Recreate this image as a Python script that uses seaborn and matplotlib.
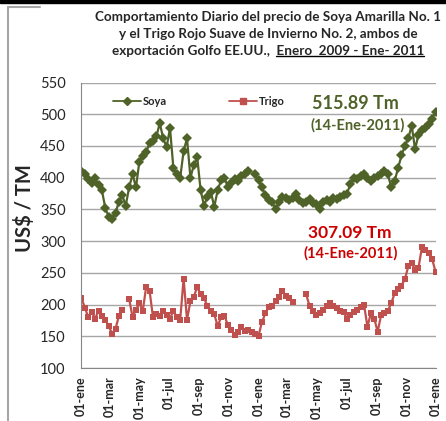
import pandas as pd
import seaborn as sns
import matplotlib.pyplot as plt
from matplotlib.lines import Line2D
from matplotlib.patches import Rectangle

# precios semanales (US$/TM); None = sin dato
fechas = pd.date_range('2009-01-02', '2010-12-31', freq='7D')

soya = [411, 405, 398, 392, 400, 388, 380, 352, 338, 335,
        345, 362, 372, 356, 385, 405, 385, 425, 434, 440,
        455, 458, 465, 486, 462, 448, 478, 415, 405, 400,
        442, 462, 400, 420, 432, 380, 356, 370, 378, 354,
        380, 396, 400, 385, 392, 398, 395, 402, 405, 410,
        None, 405, 396, 385, 372, 365, 362, 350, 362, 370,
        368, 365, 368, 375, 365, 360, 362, 366, 360, 358,
        350, 362, 365, 362, 368, 366, 370, 372, 375, 390,
        400, 398, 402, 405, 400, 395, 400, 402, 405, 410,
        405, 385, 395, 415, 435, 450, 462, 482, 445, 468,
        475, 478, 485, 492, 504]

trigo = [210, 195, 180, 188, 178, 190, 182, 176, 166, 154,
         162, 182, 192, None, 209, 180, 192, 202, 190, 228,
         222, 180, 185, 182, 190, 183, 178, 190, 180, 176,
         241, 176, 205, 212, 228, 216, 210, 198, 190, 185,
         166, 180, 182, 168, 160, 152, 156, 165, 158, 160,
         156, 154, 151, 172, 186, 196, 198, 205, 212, 222,
         214, 210, 204, None, None, None, 216, 198, 190, 184,
         186, 192, 198, 202, 198, 194, 190, 188, 178, 184,
         188, 192, 196, 200, 165, 186, 178, 157, 183, 186,
         190, 202, 218, 224, 230, 240, 260, 265, 255, 258,
         290, 286, 282, 272, 252]

ticks_x = pd.date_range('2009-01-01', '2011-01-01', freq='2MS')
etiquetas_x = ['01-ene', '01-mar', '01-may', '01-jul', '01-sep', '01-nov',
               '01-ene', '01-mar', '01-may', '01-jul', '01-sep', '01-nov',
               '01-ene']
ticks_y = [100, 150, 200, 250, 300, 350, 400, 450, 500, 550]

verde = '#4F6228'
rojo = '#C0504D'
gris = '#A6A6A6'


def tabla(nombre, valores):
    d = pd.DataFrame({'fecha': fechas, 'precio': valores, 'serie': nombre})
    d['precio'] = pd.to_numeric(d['precio'])
    d['tramo'] = nombre + d['precio'].isna().cumsum().astype(str)
    return d.dropna()


df = pd.concat([tabla('Soya', soya), tabla('Trigo', trigo)], ignore_index=True)

sns.set_style('white')
plt.rcParams['font.family'] = ['Lato', 'DejaVu Sans']

W, H = 446, 421
fig = plt.figure(figsize=(W / 100, H / 100), dpi=100)
ax = fig.add_axes([81 / W, 1 - 368 / H, 355 / W, 285.5 / H])

sns.lineplot(data=df, x='fecha', y='precio', hue='serie', style='serie',
             units='tramo', estimator=None, sort=False,
             markers={'Soya': 'D', 'Trigo': 's'}, dashes=False,
             palette={'Soya': verde, 'Trigo': rojo},
             markersize=5, markeredgewidth=0, linewidth=1.6,
             legend=False, ax=ax)

ax.set_xlim(pd.Timestamp('2009-01-01'), pd.Timestamp('2011-01-01'))
ax.set_ylim(100, 550)
ax.set_xticks(ticks_x)
ax.set_xticklabels(etiquetas_x, rotation=90, fontweight='bold', fontsize=9)
ax.set_yticks(ticks_y)
ax.set_yticklabels([str(v) for v in ticks_y], fontsize=10.5)
ax.set_xlabel('')
ax.set_ylabel('')
ax.yaxis.grid(True, color=gris, linewidth=1)
ax.xaxis.grid(False)
ax.set_axisbelow(True)
for s in ['top', 'right']:
    ax.spines[s].set_visible(False)
for s in ['left', 'bottom']:
    ax.spines[s].set_color('#868686')
ax.tick_params(axis='x', length=4, color='#868686', pad=2)
ax.tick_params(axis='y', length=0, pad=11)

# leyenda
manejadores = [Line2D([], [], color=verde, marker='D', markersize=4, lw=1.3),
               Line2D([], [], color=rojo, marker='s', markersize=4, lw=1.3)]
ax.legend(manejadores, ['Soya', 'Trigo'], ncol=2, frameon=False,
          loc='center left', bbox_to_anchor=(0.09, 0.935),
          borderpad=0, borderaxespad=0, handlelength=2.5, handletextpad=0.2,
          columnspacing=5.6, prop={'weight': 'bold', 'size': 8})

# anotaciones
ax.text(0.772, 0.928, '515.89 Tm', transform=ax.transAxes, ha='center', va='center',
        color=verde, fontweight='bold', fontsize=13)
ax.text(0.779, 0.851, '(14-Ene-2011)', transform=ax.transAxes, ha='center', va='center',
        color=verde, fontweight='bold', fontsize=10.5)
ax.text(0.758, 0.473, '307.09 Tm', transform=ax.transAxes, ha='center', va='center',
        color='#CC0000', fontweight='bold', fontsize=12.5)
ax.text(0.760, 0.403, '(14-Ene-2011)', transform=ax.transAxes, ha='center', va='center',
        color='#CC0000', fontweight='bold', fontsize=10.5)

# titulo
props = dict(ha='center', va='center', fontweight='bold', fontsize=9.7)
fig.text(268 / W, 1 - 17 / H, 'Comportamiento Diario del precio de Soya Amarilla No. 1', **props)
fig.text(268 / W, 1 - 34 / H, 'y el Trigo Rojo Suave de Invierno No. 2, ambos de', **props)
t3 = fig.text(268 / W, 1 - 51 / H, 'exportación Golfo EE.UU.,  Enero  2009 - Ene- 2011', **props)

fig.text(25 / W, 1 - 208 / H, 'US$ / TM', rotation=90, ha='center', va='center',
         fontweight='bold', fontsize=14.5)

# subrayado de la fecha del titulo
fig.canvas.draw()
rend = fig.canvas.get_renderer()
tmp = fig.text(0, 0, 'Enero  2009 - Ene- 2011', **props)
wu = tmp.get_window_extent(rend).width
tmp.remove()
bb = t3.get_window_extent(rend)
yu = (bb.y0 + 1) / H
fig.add_artist(Line2D([(bb.x1 - wu) / W, bb.x1 / W], [yu, yu], color='black',
                      lw=1, transform=fig.transFigure))

# marco exterior
fig.add_artist(Rectangle((0, 1 - 3 / H), 1, 3 / H, color='black',
                         transform=fig.transFigure))
fig.add_artist(Line2D([8 / W, 8 / W], [0, 1 - 7 / H], color=gris, lw=1.5,
                      transform=fig.transFigure))
fig.add_artist(Line2D([8 / W, 40 / W], [1 - 7 / H, 1 - 7 / H], color=gris, lw=1.5,
                      transform=fig.transFigure))

fig.savefig('out.png', dpi=100)
